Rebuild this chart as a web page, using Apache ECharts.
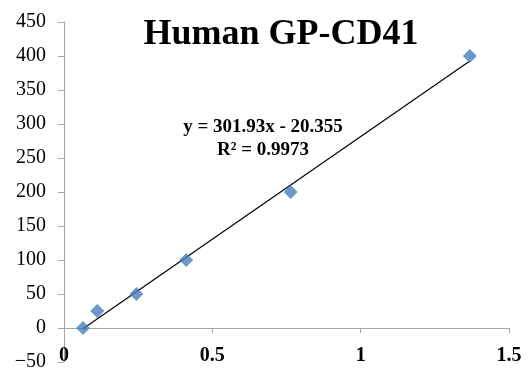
<!DOCTYPE html>
<html>
<head>
<meta charset="utf-8">
<script src="https://cdn.jsdelivr.net/npm/echarts@6/dist/echarts.min.js"></script>
<style>html,body{margin:0;padding:0;background:#fff}#c{width:528px;height:372px}</style>
</head>
<body>
<div id="c"></div>
<script>
var titleText = 'Human GP-CD41';
var xValues = [0.064, 0.112, 0.244, 0.412, 0.764, 1.368];
var yValues = [0, 25, 50, 100, 200, 400];
var slope = 301.93;
var intercept = -20.355;
var r2Text = 'R² = 0.9973';
var eqText = 'y = 301.93x - 20.355';

var points = xValues.map(function (x, i) { return [x, yValues[i]]; });
var xMin = Math.min.apply(null, xValues), xMax = Math.max.apply(null, xValues);
var trend = [[xMin, slope * xMin + intercept], [xMax, slope * xMax + intercept]];

var chart = echarts.init(document.getElementById('c'), null, {renderer: 'canvas'});
chart.setOption({
  animation: false,
  backgroundColor: '#ffffff',
  title: {
    text: titleText, left: 276, top: 12, textAlign: 'center',
    textStyle: {fontFamily: 'Liberation Serif', fontWeight: 'bold', fontSize: 36, color: '#000'}
  },
  graphic: [
    {type: 'text', x: 263, y: 116, style: {text: eqText + '\n' + r2Text, align: 'center', verticalAlign: 'top', fontFamily: 'Liberation Serif', fontWeight: 'bold', fontSize: 19, lineHeight: 23, fill: '#000'}}
  ],
  grid: {left: 64, right: 19, top: 22, bottom: 10, containLabel: false, outerBoundsMode: 'none'},
  xAxis: [{
    type: 'value', min: 0, max: 1.5, interval: 0.5,
    axisLine: {onZero: true, lineStyle: {color: '#a6a6a6', width: 1}},
    axisTick: {show: true, length: 5, lineStyle: {color: '#a6a6a6'}},
    splitLine: {show: false},
    axisLabel: {show: false}
  }, {
    type: 'value', min: 0, max: 1.5, interval: 0.5, position: 'bottom',
    axisLine: {show: false, onZero: false},
    axisTick: {show: false},
    splitLine: {show: false},
    axisLabel: {show: true, inside: true, margin: -4, fontFamily: 'Liberation Serif', fontWeight: 'bold', fontSize: 20, color: '#000'}
  }],
  yAxis: {
    type: 'value', min: -50, max: 450, interval: 50,
    axisLine: {show: true, onZero: false, lineStyle: {color: '#a6a6a6', width: 1}},
    axisTick: {show: true, length: 6, lineStyle: {color: '#a6a6a6'}},
    splitLine: {show: false},
    axisLabel: {margin: 18, fontFamily: 'Liberation Serif', fontSize: 20, color: '#000',
      formatter: function (v) { return v < 0 ? '\u2212' + Math.abs(v) : String(v); }}
  },
  series: [
    {type: 'line', data: trend, symbol: 'none', lineStyle: {color: '#000', width: 1.2}, z: 2},
    {type: 'scatter', data: points, symbol: 'diamond', symbolSize: [14, 14], itemStyle: {color: '#4a7ebb'}, z: 3}
  ]
});
</script>
</body>
</html>
